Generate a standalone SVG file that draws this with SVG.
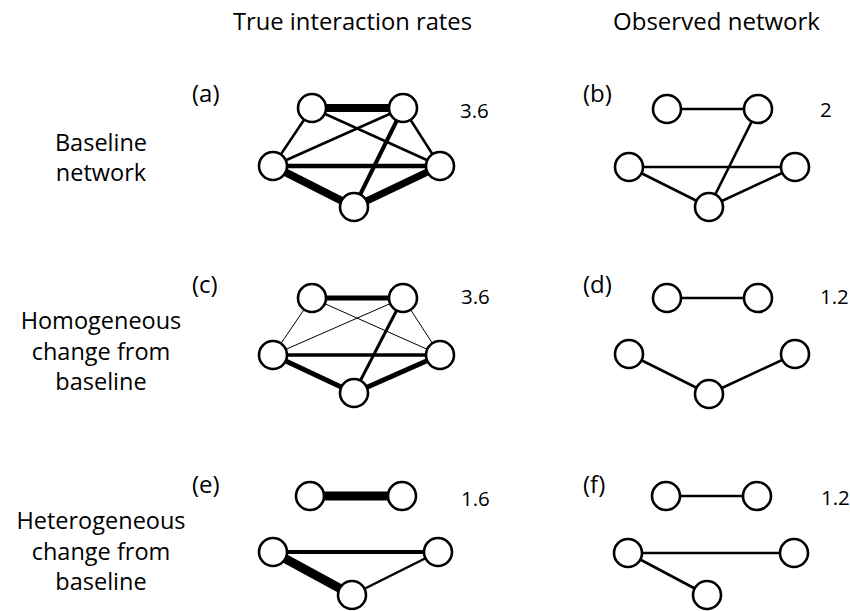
<svg xmlns="http://www.w3.org/2000/svg" width="850" height="611" viewBox="0 0 850 611">
<style>
text{font-family:"Open Sans","Noto Sans","Liberation Sans",sans-serif;fill:#000}
.h{font-size:23.5px}
.s{font-size:23.5px;text-anchor:middle}
.p{font-size:24px}
.n{font-size:20.5px}
.nd circle{fill:#fff;stroke:#000;stroke-width:2.6}
.e line{stroke:#000;stroke-linecap:butt}
</style>
<rect width="850" height="611" fill="#fff"/>
<text class="h" x="233" y="30" textLength="239" lengthAdjust="spacingAndGlyphs">True interaction rates</text>
<text class="h" x="613" y="30" textLength="207" lengthAdjust="spacingAndGlyphs">Observed network</text>
<text class="s" x="101" y="151">Baseline</text>
<text class="s" x="101" y="181">network</text>
<text class="s" x="101" y="329">Homogeneous</text>
<text class="s" x="101" y="360">change from</text>
<text class="s" x="101" y="390">baseline</text>
<text class="s" x="101" y="529">Heterogeneous</text>
<text class="s" x="101" y="560">change from</text>
<text class="s" x="101" y="590">baseline</text>
<text class="p" x="192" y="102">(a)</text>
<text class="p" x="583" y="102">(b)</text>
<text class="p" x="192" y="293">(c)</text>
<text class="p" x="583" y="293">(d)</text>
<text class="p" x="192" y="493">(e)</text>
<text class="p" x="583" y="493">(f)</text>
<text class="n" x="460" y="118">3.6</text>
<text class="n" x="820" y="117">2</text>
<text class="n" x="461" y="304">3.6</text>
<text class="n" x="820" y="304">1.2</text>
<text class="n" x="461" y="506">1.6</text>
<text class="n" x="821" y="505">1.2</text>
<g id="connectors" class="e">
<line x1="312" y1="108" x2="403" y2="108" stroke-width="8"/>
<line x1="312" y1="108" x2="273" y2="166" stroke-width="2.5"/>
<line x1="312" y1="108" x2="440" y2="166" stroke-width="2.5"/>
<line x1="403" y1="108" x2="273" y2="166" stroke-width="2.5"/>
<line x1="403" y1="108" x2="440" y2="166" stroke-width="2.5"/>
<line x1="403" y1="108" x2="354" y2="207" stroke-width="4"/>
<line x1="273" y1="166" x2="440" y2="166" stroke-width="4.5"/>
<line x1="273" y1="166" x2="354" y2="207" stroke-width="8"/>
<line x1="354" y1="207" x2="440" y2="166" stroke-width="7"/>
<line x1="667" y1="109" x2="758" y2="109" stroke-width="2.6"/>
<line x1="758" y1="109" x2="709" y2="207" stroke-width="2.6"/>
<line x1="629" y1="167" x2="795" y2="167" stroke-width="2.6"/>
<line x1="629" y1="167" x2="709" y2="207" stroke-width="2.6"/>
<line x1="709" y1="207" x2="795" y2="167" stroke-width="2.6"/>
<line x1="312" y1="298" x2="403" y2="298" stroke-width="5"/>
<line x1="312" y1="298" x2="273" y2="355" stroke-width="1"/>
<line x1="312" y1="298" x2="440" y2="355" stroke-width="1"/>
<line x1="403" y1="298" x2="273" y2="355" stroke-width="1"/>
<line x1="403" y1="298" x2="440" y2="355" stroke-width="1"/>
<line x1="403" y1="298" x2="354" y2="393" stroke-width="3"/>
<line x1="273" y1="355" x2="440" y2="355" stroke-width="3.5"/>
<line x1="273" y1="355" x2="354" y2="393" stroke-width="5"/>
<line x1="354" y1="393" x2="440" y2="355" stroke-width="5"/>
<line x1="667" y1="298" x2="758" y2="298" stroke-width="2.6"/>
<line x1="629" y1="354" x2="709" y2="394" stroke-width="2.6"/>
<line x1="709" y1="394" x2="795" y2="354" stroke-width="2.6"/>
<line x1="310" y1="496" x2="402" y2="496" stroke-width="9"/>
<line x1="273" y1="552" x2="438" y2="552" stroke-width="4"/>
<line x1="273" y1="552" x2="352" y2="595" stroke-width="9"/>
<line x1="352" y1="595" x2="438" y2="552" stroke-width="2.5"/>
<line x1="666" y1="496" x2="757" y2="496" stroke-width="2.6"/>
<line x1="628" y1="553" x2="794" y2="553" stroke-width="2.6"/>
<line x1="628" y1="553" x2="707" y2="595" stroke-width="2.6"/>
</g>
<g class="nd">
<g id="a1"><circle cx="312" cy="108" r="14"/></g>
<g id="a2"><circle cx="403" cy="108" r="14"/></g>
<g id="a3"><circle cx="273" cy="166" r="14"/></g>
<g id="a4"><circle cx="440" cy="166" r="14"/></g>
<g id="a5"><circle cx="354" cy="207" r="14"/></g>
<g id="b1"><circle cx="667" cy="109" r="14"/></g>
<g id="b2"><circle cx="758" cy="109" r="14"/></g>
<g id="b3"><circle cx="629" cy="167" r="14"/></g>
<g id="b4"><circle cx="795" cy="167" r="14"/></g>
<g id="b5"><circle cx="709" cy="207" r="14"/></g>
<g id="c1"><circle cx="312" cy="298" r="14"/></g>
<g id="c2"><circle cx="403" cy="298" r="14"/></g>
<g id="c3"><circle cx="273" cy="355" r="14"/></g>
<g id="c4"><circle cx="440" cy="355" r="14"/></g>
<g id="c5"><circle cx="354" cy="393" r="14"/></g>
<g id="d1"><circle cx="667" cy="298" r="14"/></g>
<g id="d2"><circle cx="758" cy="298" r="14"/></g>
<g id="d3"><circle cx="629" cy="354" r="14"/></g>
<g id="d4"><circle cx="795" cy="354" r="14"/></g>
<g id="d5"><circle cx="709" cy="394" r="14"/></g>
<g id="e1"><circle cx="310" cy="496" r="14"/></g>
<g id="e2"><circle cx="402" cy="496" r="14"/></g>
<g id="e3"><circle cx="273" cy="552" r="14"/></g>
<g id="e4"><circle cx="438" cy="552" r="14"/></g>
<g id="e5"><circle cx="352" cy="595" r="14"/></g>
<g id="f1"><circle cx="666" cy="496" r="14"/></g>
<g id="f2"><circle cx="757" cy="496" r="14"/></g>
<g id="f3"><circle cx="628" cy="553" r="14"/></g>
<g id="f4"><circle cx="794" cy="553" r="14"/></g>
<g id="f5"><circle cx="707" cy="595" r="14"/></g>
</g>
</svg>
